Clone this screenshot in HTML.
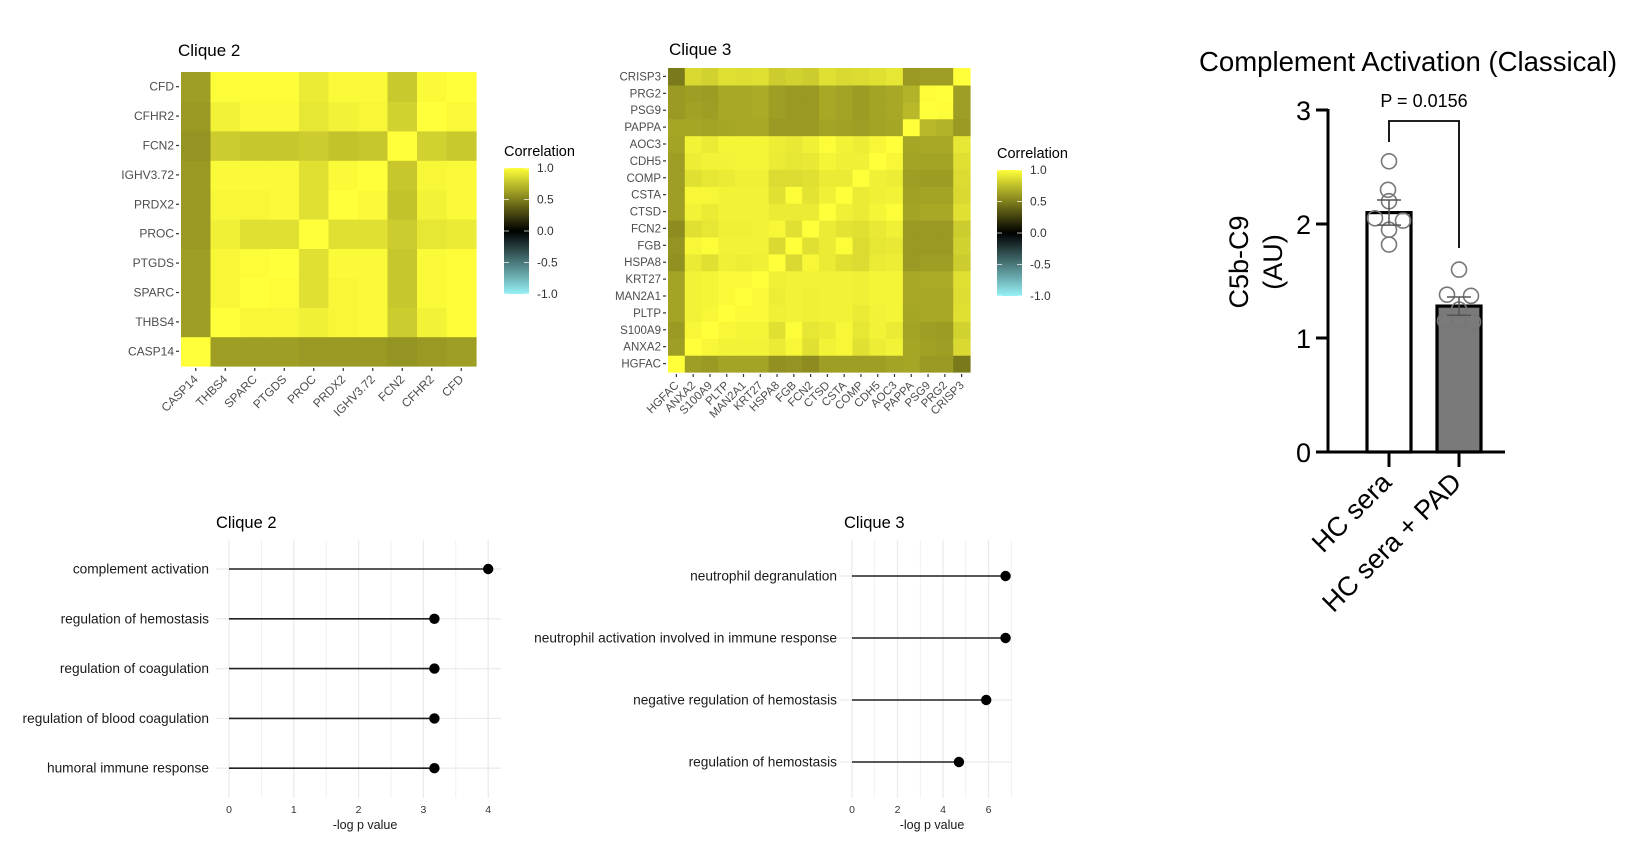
<!DOCTYPE html>
<html><head><meta charset="utf-8">
<style>
html,body{margin:0;padding:0;background:#fff;}
svg{display:block;font-family:"Liberation Sans",Arial,sans-serif;}
</style></head>
<body>
<svg id="root" width="1644" height="857" viewBox="0 0 1644 857" xmlns="http://www.w3.org/2000/svg"></svg>
<script>
// ---------- DATA ----------
const c2Genes = ["CASP14","THBS4","SPARC","PTGDS","PROC","PRDX2","IGHV3.72","FCN2","CFHR2","CFD"];
const c2Matrix = [
 [1,.62,.62,.62,.6,.6,.6,.58,.6,.62],
 [.62,1,.97,.97,.94,.97,.98,.8,.95,.99],
 [.62,.97,1,.99,.88,.97,.98,.78,.98,.99],
 [.62,.97,.99,1,.88,.98,.98,.78,.98,.99],
 [.6,.94,.88,.88,1,.88,.88,.8,.9,.92],
 [.6,.97,.97,.98,.88,1,.98,.76,.95,.98],
 [.6,.98,.98,.98,.88,.98,1,.78,.97,.98],
 [.58,.8,.78,.78,.8,.76,.78,1,.82,.79],
 [.6,.95,.98,.98,.9,.95,.97,.82,1,.98],
 [.62,.99,.99,.99,.92,.98,.98,.79,.98,1]
];
const c3Genes = ["HGFAC","ANXA2","S100A9","PLTP","MAN2A1","KRT27","HSPA8","FGB","FCN2","CTSD","CSTA","COMP","CDH5","AOC3","PAPPA","PSG9","PRG2","CRISP3"];
const c3Matrix = [
 [1,.62,.6,.64,.64,.64,.57,.58,.55,.62,.62,.62,.62,.64,.65,.6,.6,.48],
 [.62,1,.97,.95,.95,.95,.92,.97,.88,.95,.97,.88,.93,.95,.65,.63,.62,.85],
 [.6,.97,1,.97,.96,.96,.88,.99,.9,.92,.97,.9,.95,.92,.64,.62,.61,.82],
 [.64,.95,.97,1,.98,.98,.94,.95,.94,.95,.95,.92,.95,.96,.65,.66,.66,.88],
 [.64,.95,.96,.98,1,.98,.93,.95,.94,.95,.95,.94,.96,.96,.66,.66,.66,.87],
 [.64,.95,.96,.98,.98,1,.94,.95,.95,.95,.95,.94,.96,.96,.66,.67,.67,.88],
 [.57,.92,.88,.94,.93,.94,1,.85,.97,.92,.88,.86,.92,.93,.6,.62,.62,.8],
 [.58,.97,.99,.95,.95,.95,.85,1,.88,.92,.99,.86,.9,.91,.6,.6,.6,.82],
 [.55,.88,.9,.94,.94,.95,.97,.88,1,.92,.89,.88,.91,.94,.6,.6,.6,.8],
 [.62,.95,.92,.95,.95,.95,.92,.92,.92,1,.94,.92,.96,.99,.64,.66,.66,.88],
 [.62,.97,.97,.95,.95,.95,.88,.99,.89,.94,1,.92,.94,.95,.63,.64,.64,.85],
 [.62,.88,.9,.92,.94,.94,.86,.86,.88,.92,.92,1,.94,.93,.62,.61,.61,.86],
 [.62,.93,.95,.95,.96,.96,.92,.9,.91,.96,.94,.94,1,.97,.64,.64,.64,.88],
 [.64,.95,.92,.96,.96,.96,.93,.91,.94,.99,.95,.93,.97,1,.65,.66,.66,.9],
 [.65,.65,.64,.65,.66,.66,.6,.6,.6,.64,.63,.62,.64,.65,1,.72,.7,.6],
 [.6,.63,.62,.66,.66,.67,.62,.6,.6,.66,.64,.61,.64,.66,.72,1,.99,.62],
 [.6,.62,.61,.66,.66,.67,.62,.6,.6,.66,.64,.61,.64,.66,.7,.99,1,.62],
 [.48,.85,.82,.88,.87,.88,.8,.82,.8,.88,.85,.86,.88,.9,.6,.62,.62,1]
];
const legendTicks = [1.0, 0.5, 0.0, -0.5, -1.0];
const lol2Terms = ["complement activation","regulation of hemostasis","regulation of coagulation","regulation of blood coagulation","humoral immune response"];
const lol2Values = [4.0, 3.17, 3.17, 3.17, 3.17];
const lol2Ticks = [0,1,2,3,4];
const lol3Terms = ["neutrophil degranulation","neutrophil activation involved in immune response","negative regulation of hemostasis","regulation of hemostasis"];
const lol3Values = [6.75, 6.75, 5.9, 4.7];
const lol3Ticks = [0,2,4,6];
const barGroups = ["HC sera","HC sera + PAD"];
const barMeans = [2.1, 1.28];
const barSem = [0.11, 0.08];
const barPoints1 = [2.55, 2.3, 2.2, 2.05, 2.03, 1.95, 1.82];
const barPoints2 = [1.6, 1.38, 1.37, 1.25, 1.15, 1.15, 1.14];
const barYTicks = [0,1,2,3];

// ---------- HELPERS ----------
const NS = "http://www.w3.org/2000/svg";
const root = document.getElementById("root");
function mk(tag, attrs, parent, text){
  const e = document.createElementNS(NS, tag);
  for (const k in attrs) e.setAttribute(k, attrs[k]);
  if (text !== undefined) e.textContent = text;
  (parent || root).appendChild(e);
  return e;
}
function corrColor(v){
  let r,g,b;
  if (v >= 0){ r = 255*v; g = 255*v; b = 58*v; }
  else { const t=-v; r = 150*t; g = 242*t; b = 246*t; }
  return `rgb(${Math.round(r)},${Math.round(g)},${Math.round(b)})`;
}

// ---------- HEATMAP ----------
function heatmap(opt){
  const g = mk("g", {});
  
  
  const n = opt.genes.length;
  const cw = (opt.right-opt.left)/n, ch = (opt.bottom-opt.top)/n;
  const xS = i => opt.left + i*cw;
  const yS = i => opt.bottom - (i+1)*ch;
  const t = mk("text", {x:opt.titleX, y:opt.titleY, "font-size":17, fill:"#000"}, g, opt.title);
  
  
  for (let r=0;r<n;r++) for (let c=0;c<n;c++){
    const cell = mk("rect", {x:xS(c).toFixed(2), y:yS(r).toFixed(2), width:(cw+0.6).toFixed(2), height:(ch+0.6).toFixed(2), fill:corrColor(opt.matrix[r][c])}, g);
    
    
  }
  for (let i=0;i<n;i++){
    const yc = yS(i)+ch/2, xc = xS(i)+cw/2;
    mk("line",{x1:opt.left-5,x2:opt.left-2,y1:yc,y2:yc,stroke:"#333","stroke-width":1.2},g);
    const yl = mk("text",{x:opt.left-7,y:yc+4,"font-size":opt.fs,fill:"#4d4d4d","text-anchor":"end"},g,opt.genes[i]);
    
    
    mk("line",{x1:xc,x2:xc,y1:opt.bottom+2,y2:opt.bottom+5,stroke:"#333","stroke-width":1.2},g);
    const xl = mk("text",{x:xc+3,y:opt.bottom+14,"font-size":opt.fs,fill:"#4d4d4d","text-anchor":"end",transform:`rotate(-45 ${xc+3} ${opt.bottom+14})`},g,opt.genes[i]);
    
    
  }
  const lg = mk("g",{},g);
  
  
  mk("text",{x:opt.legX,y:opt.legY-12,"font-size":14.5,fill:"#000"},lg,"Correlation");
  const gid = opt.name+"-grad";
  const defs = mk("defs",{},lg);
  const grad = mk("linearGradient",{id:gid,x1:0,y1:0,x2:0,y2:1},defs);
  for (let k=0;k<=20;k++){ const v = 1 - k/10; mk("stop",{offset:(k/20),"stop-color":corrColor(v)},grad); }
  const bh = 126, bw = 25;
  mk("rect",{x:opt.legX,y:opt.legY,width:bw,height:bh,fill:`url(#${gid})`},lg);
  legendTicks.forEach(v=>{
    const yy = opt.legY + (1-v)/2*bh;
    mk("line",{x1:opt.legX,x2:opt.legX+5,y1:yy,y2:yy,stroke:"#fff","stroke-width":1,opacity:.7},lg);
    mk("line",{x1:opt.legX+bw-5,x2:opt.legX+bw,y1:yy,y2:yy,stroke:"#fff","stroke-width":1,opacity:.7},lg);
    mk("text",{x:opt.legX+bw+8,y:yy+4,"font-size":12,fill:"#333"},lg,v.toFixed(1));
  });
}
heatmap({name:"clique2-heatmap",title:"Clique 2",titleX:178,titleY:56,genes:c2Genes,matrix:c2Matrix,left:181,right:476,top:72,bottom:366,fs:12,legX:504,legY:168});
heatmap({name:"clique3-heatmap",title:"Clique 3",titleX:669,titleY:55,genes:c3Genes,matrix:c3Matrix,left:668,right:970,top:68,bottom:372,fs:11.5,legX:997,legY:170});

// ---------- LOLLIPOP ----------
function lollipop(opt){
  const g = mk("g",{});
  
  
  const xS = v => opt.x0 + v*opt.ppu;
  const n = opt.terms.length;
  const yS = i => opt.rowTop + i*opt.rowStep;
  for (let v=0; xS(v)<=opt.right; v+=opt.minor){
    mk("line",{x1:xS(v),x2:xS(v),y1:opt.top,y2:opt.bottom,stroke:"#ebebeb","stroke-width":(Math.abs(v/opt.major-Math.round(v/opt.major))<1e-6)?1.3:0.7},g);
  }
  for (let i=0;i<n;i++) mk("line",{x1:opt.x0-13,x2:opt.right,y1:yS(i),y2:yS(i),stroke:"#ebebeb","stroke-width":1.3},g);
  const t = mk("text",{x:opt.titleX,y:opt.titleY,"font-size":16.5,fill:"#000"},g,opt.title);
  
  
  for (let i=0;i<n;i++){
    const y = yS(i);
    const lab = mk("text",{x:opt.labelX,y:y+4.5,"font-size":13.7,fill:"#1a1a1a","text-anchor":"end"},g,opt.terms[i]);
    
    
    const st = mk("line",{x1:xS(0),x2:xS(opt.values[i]),y1:y,y2:y,stroke:"#222","stroke-width":1.6},g);
    
    
    const dot = mk("circle",{cx:xS(opt.values[i]),cy:y,r:5.2,fill:"#000"},g);
    
    
  }
  opt.ticks.forEach(v=>{
    mk("text",{x:xS(v),y:opt.bottom+15,"font-size":10.5,fill:"#333","text-anchor":"middle"},g,String(v));
  });
  const at = mk("text",{x:(opt.x0+opt.right)/2,y:opt.bottom+31,"font-size":12.5,fill:"#1a1a1a","text-anchor":"middle"},g,"-log p value");
  
  
}
lollipop({name:"clique2-lollipop",title:"Clique 2",titleX:216,titleY:528,terms:lol2Terms,values:lol2Values,ticks:lol2Ticks,x0:229,ppu:64.8,right:501,top:540,bottom:798,rowTop:569,rowStep:49.8,labelX:209,minor:0.5,major:1});
lollipop({name:"clique3-lollipop",title:"Clique 3",titleX:844,titleY:528,terms:lol3Terms,values:lol3Values,ticks:lol3Ticks,x0:852,ppu:22.75,right:1012,top:540,bottom:798,rowTop:576,rowStep:62,labelX:837,minor:1,major:2});

// ---------- BAR CHART ----------
(function(){
  const g = mk("g",{});
  
  
  const axX = 1328, y0 = 452, ppu = 114;
  const yS = v => y0 - v*ppu;
  const centers = [1389, 1459];
  const bw = 44;
  const tt = mk("text",{x:1408,y:71,"font-size":28,fill:"#000","text-anchor":"middle",textLength:418,lengthAdjust:"spacingAndGlyphs"},g,"Complement Activation (Classical)");
  
  
  const fills = ["#fff","#7a7a7a"];
  barMeans.forEach((m,i)=>{
    const b = mk("rect",{x:centers[i]-bw/2,y:yS(m),width:bw,height:y0-yS(m),fill:fills[i],stroke:"#000","stroke-width":3.2},g);
    
    
  });
  const jit = [0,-1,0,-14,14,0,0];
  const jit2 = [0,-12,12,0,-14,0,14];
  [barPoints1, barPoints2].forEach((pts,i)=>{
    pts.forEach((v,k)=>{
      const j = (i===0?jit:jit2)[k];
      const c = mk("circle",{cx:centers[i]+j,cy:yS(v),r:7.5,fill:"none",stroke:"#777","stroke-width":1.6},g);
      
      
    });
    const m = barMeans[i], s = barSem[i];
    mk("line",{x1:centers[i],x2:centers[i],y1:yS(m+s),y2:yS(m-s),stroke:"#555","stroke-width":1.5},g);
    mk("line",{x1:centers[i]-12,x2:centers[i]+12,y1:yS(m+s),y2:yS(m+s),stroke:"#555","stroke-width":1.5},g);
    mk("line",{x1:centers[i]-12,x2:centers[i]+12,y1:yS(m-s),y2:yS(m-s),stroke:"#555","stroke-width":1.5},g);
  });
  mk("line",{x1:axX,x2:axX,y1:yS(3)-1,y2:y0+1.5,stroke:"#000","stroke-width":3},g);
  mk("line",{x1:axX-1.5,x2:1505,y1:y0,y2:y0,stroke:"#000","stroke-width":3},g);
  barYTicks.forEach(v=>{
    mk("line",{x1:axX-12,x2:axX,y1:yS(v),y2:yS(v),stroke:"#000","stroke-width":3},g);
    mk("text",{x:axX-17,y:yS(v)+10,"font-size":27,fill:"#000","text-anchor":"end"},g,String(v));
  });
  centers.forEach((cx,i)=>{
    mk("line",{x1:cx,x2:cx,y1:y0,y2:y0+15,stroke:"#000","stroke-width":3},g);
    const l = mk("text",{x:cx+4,y:y0+32,"font-size":27,fill:"#000","text-anchor":"end",transform:`rotate(-45 ${cx+4} ${y0+32})`},g,barGroups[i]);
    
    
  });
  const yl = mk("text",{x:0,y:0,"font-size":27,fill:"#000","text-anchor":"middle",transform:"translate(1248 262) rotate(-90)"},g,"C5b-C9");
  
  
  mk("text",{x:0,y:0,"font-size":27,fill:"#000","text-anchor":"middle",transform:"translate(1282 262) rotate(-90)"},g,"(AU)");
  const br = mk("polyline",{points:`${centers[0]},142 ${centers[0]},121 ${centers[1]},121 ${centers[1]},248`,fill:"none",stroke:"#000","stroke-width":1.8},g);
  
  
  const p = mk("text",{x:(centers[0]+centers[1])/2,y:107,"font-size":18,fill:"#000","text-anchor":"middle"},g,"P = 0.0156");
  
  
})();
</script>
</body></html>
